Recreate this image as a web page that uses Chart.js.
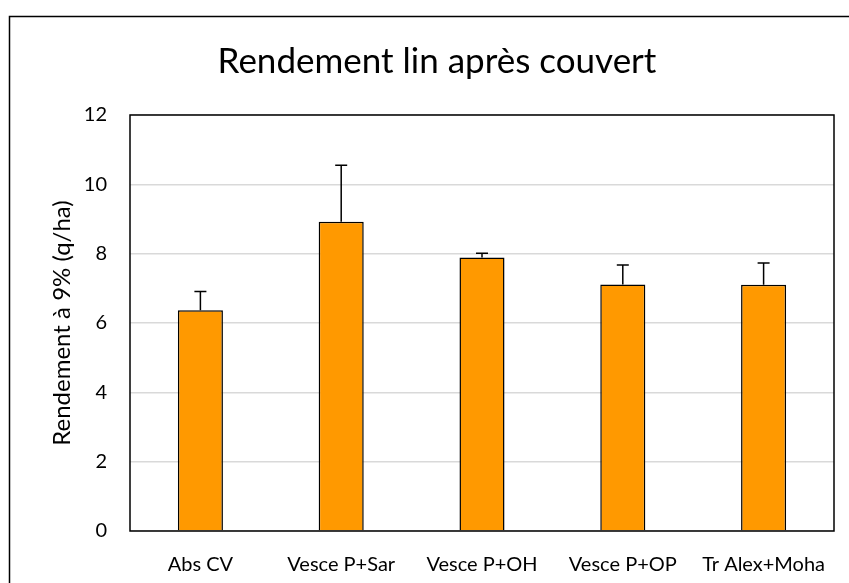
<!DOCTYPE html>
<html>
<head>
<meta charset="utf-8">
<script src="https://cdn.jsdelivr.net/npm/chart.js@4"></script>
<style>
html,body{margin:0;padding:0;background:#fff;}
#wrap{width:849px;height:583px;position:relative;}
</style>
</head>
<body>
<div id="wrap"><canvas id="c" width="849" height="583"></canvas></div>
<script>
const categories = ["Abs CV", "Vesce P+Sar", "Vesce P+OH", "Vesce P+OP", "Tr Alex+Moha"];
const yieldValues = [6.37, 8.92, 7.89, 7.11, 7.10];
const errorValues = [0.54, 1.63, 0.12, 0.56, 0.63];
const yTicks = [0, 2, 4, 6, 8, 10, 12];
const titleText = "Rendement lin après couvert";
const yAxisTitle = "Rendement à 9% (q/ha)";

const FONT = "Lato, 'Open Sans', sans-serif";

const framePlugin = {
  id: 'frames',
  beforeDraw(chart) {
    const ctx = chart.ctx;
    ctx.save();
    ctx.fillStyle = '#fff';
    ctx.fillRect(0, 0, chart.width, chart.height);
    ctx.strokeStyle = '#000';
    ctx.lineWidth = 1.5;
    ctx.strokeRect(9.5, 16.5, chart.width + 20, chart.height + 20);
    ctx.restore();
  },
  afterDraw(chart) {
    const a = chart.chartArea;
    const ctx = chart.ctx;
    ctx.save();
    ctx.strokeStyle = '#000';
    ctx.lineWidth = 1.5;
    ctx.strokeRect(a.left, a.top, a.right - a.left, a.bottom - a.top);
    ctx.restore();
  }
};

const errorBarPlugin = {
  id: 'errorBars',
  afterDatasetsDraw(chart) {
    const ctx = chart.ctx;
    const meta = chart.getDatasetMeta(0);
    const ys = chart.scales.y;
    ctx.save();
    ctx.strokeStyle = '#000';
    ctx.lineWidth = 1.5;
    meta.data.forEach((bar, i) => {
      const top = ys.getPixelForValue(yieldValues[i] + errorValues[i]);
      const base = bar.y;
      ctx.beginPath();
      ctx.moveTo(bar.x, base);
      ctx.lineTo(bar.x, top);
      ctx.moveTo(bar.x - 6, top);
      ctx.lineTo(bar.x + 6, top);
      ctx.stroke();
    });
    ctx.restore();
  }
};

new Chart(document.getElementById('c'), {
  type: 'bar',
  data: {
    labels: categories,
    datasets: [{
      data: yieldValues,
      backgroundColor: '#FF9900',
      borderColor: '#000',
      borderWidth: 1.5,
      barPercentage: 0.64,
      categoryPercentage: 0.5
    }]
  },
  options: {
    responsive: false,
    animation: false,
    devicePixelRatio: 1,
    layout: { padding: { left: 40, right: 15, top: 0, bottom: 0 } },
    plugins: {
      legend: { display: false },
      tooltip: { enabled: false },
      title: {
        display: true,
        text: titleText,
        color: '#000',
        font: { family: FONT, size: 35, weight: 'normal' },
        padding: { top: 41, bottom: 32 }
      }
    },
    scales: {
      x: {
        grid: { display: false, drawTicks: false },
        border: { display: false },
        ticks: { color: '#000', font: { family: FONT, size: 20 }, padding: 22, maxRotation: 0 },
        afterFit(s) { s.height = 52; }
      },
      y: {
        min: 0, max: 12,
        afterBuildTicks(s) { s.ticks = yTicks.map(v => ({ value: v })); },
        grid: { color: '#d9d9d9', lineWidth: 1.5, drawTicks: false },
        border: { display: false },
        ticks: { color: '#000', font: { family: FONT, size: 20 }, padding: 23 },
        title: {
          display: true, text: yAxisTitle, color: '#000',
          font: { family: FONT, size: 24 }, padding: { top: 8, bottom: 0 }
        },
        afterFit(s) { s.width = 90; }
      }
    }
  },
  plugins: [framePlugin, errorBarPlugin]
});
</script>
</body>
</html>
